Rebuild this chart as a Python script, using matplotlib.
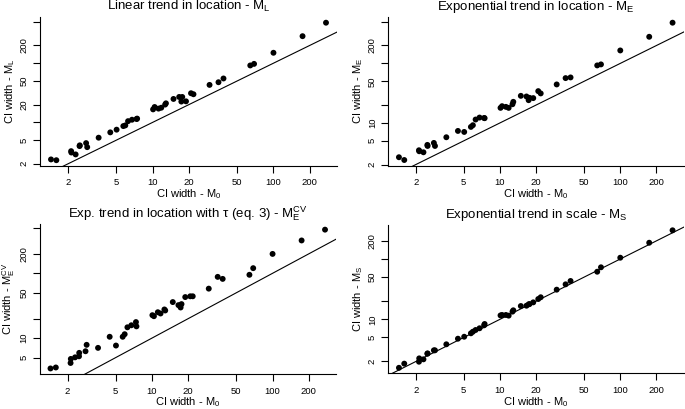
import numpy as np
import matplotlib
matplotlib.use("Agg")
import matplotlib.pyplot as plt

plt.rcParams['font.family'] = ['Liberation Sans', 'DejaVu Sans']
plt.rcParams['mathtext.fontset'] = 'custom'
plt.rcParams['mathtext.rm'] = 'Liberation Sans'
plt.rcParams['mathtext.it'] = 'Liberation Sans:italic'
plt.rcParams['mathtext.sf'] = 'Liberation Sans'

# CI width under M0 (x, shared by all panels)
ci_m0 = [1.445, 1.60, 2.12, 2.13, 2.31, 2.49, 2.50, 2.82, 2.88, 3.58, 4.47, 5.04, 5.73,
         5.95, 6.27, 6.76, 7.38, 7.45, 10.1, 10.4, 11.2, 11.8, 12.7, 12.9, 14.9, 16.6,
         17.3, 17.6, 18.9, 20.8, 21.8, 29.6, 35.1, 38.6, 64.3, 69.1, 100, 174, 272]

ci_ml = [2.37, 2.30, 3.27, 3.10, 2.88, 3.98, 4.10, 4.47, 3.82, 5.52, 6.79, 7.54, 8.67,
         8.9, 10.5, 11.1, 11.4, 11.6, 16.6, 18.2, 17.1, 17.7, 20.0, 21.0, 24.9, 26.9,
         22.5, 26.9, 22.7, 31.1, 29.9, 43.0, 47.7, 55.2, 91.6, 97.4, 150, 286, 483]

ci_me = [2.65, 2.38, 3.47, 3.34, 3.21, 4.27, 4.10, 4.61, 4.10, 5.74, 7.33, 7.05, 8.57,
         9.15, 11.4, 12.3, 12.1, 12.0, 17.9, 19.1, 18.6, 17.9, 20.6, 22.6, 28.5, 27.8,
         24.1, 26.4, 26.1, 34.2, 31.3, 44.3, 56.6, 58.1, 92.5, 96.2, 165, 280, 483]

ci_mecv = [3.41, 3.53, 4.14, 4.78, 5.06, 5.25, 5.93, 6.28, 7.89, 7.08, 10.5, 7.69, 10.5,
           11.5, 14.7, 15.8, 17.7, 15.2, 22.6, 21.8, 25.1, 24.0, 27.7, 26.7, 36.0, 32.3,
           29.7, 33.5, 43.0, 44.2, 44.2, 58.0, 88.1, 82.0, 94.8, 120, 199, 321, 471]

ci_ms = [1.57, 1.84, 1.98, 2.25, 2.17, 2.69, 2.72, 3.06, 3.06, 3.85, 4.77, 5.14, 5.86,
         6.23, 6.65, 7.10, 7.95, 8.36, 11.6, 11.8, 11.8, 11.5, 13.4, 14.1, 16.6, 16.8,
         17.7, 17.9, 19.1, 21.7, 23.2, 31.0, 38.0, 43.2, 61.5, 72.8, 105, 186, 299]

x_ticks = [2, 5, 10, 20, 50, 100, 200]

panels = [
    dict(y=ci_ml, title=r'Linear trend in location - $\mathrm{M}_\mathrm{L}$',
         ylabel=r'CI width - $\mathrm{M}_\mathrm{L}$',
         yticks=[2, 5, 10, 20, 50, 100, 200, 500], ylabels=[2, 5, 20, 50, 200],
         rect=(40, 17.2, 337, 165.7)),
    dict(y=ci_me, title=r'Exponential trend in location - $\mathrm{M}_\mathrm{E}$',
         ylabel=r'CI width - $\mathrm{M}_\mathrm{E}$',
         yticks=[2, 5, 10, 20, 50, 100, 200, 500], ylabels=[2, 5, 10, 50, 200],
         rect=(388, 17.2, 683.5, 165.5)),
    dict(y=ci_mecv, title=r'Exp. trend in location with $\mathrm{\tau}$ (eq. 3) - $\mathrm{M}_\mathrm{E}^\mathrm{CV}$',
         ylabel=r'CI width - $\mathrm{M}_\mathrm{E}^\mathrm{CV}$',
         yticks=[5, 10, 20, 50, 100, 200, 500], ylabels=[5, 10, 50, 200],
         rect=(39.5, 224.1, 336, 374)),
    dict(y=ci_ms, title=r'Exponential trend in scale - $\mathrm{M}_\mathrm{S}$',
         ylabel=r'CI width - $\mathrm{M}_\mathrm{S}$',
         yticks=[2, 5, 10, 20, 50, 100, 200], ylabels=[2, 5, 10, 50, 200],
         rect=(388, 224.8, 683.5, 373.3)),
]

W, H = 685, 409
fig = plt.figure(figsize=(W / 100, H / 100), dpi=100)


def rlim(v):
    lv = np.log10(np.asarray(v, float))
    lo, hi = lv.min(), lv.max()
    d = 0.04 * (hi - lo)
    return 10 ** (lo - d), 10 ** (hi + d)


for p in panels:
    x0, y0, x1, y1 = p['rect']
    ax = fig.add_axes([x0 / W, 1 - y1 / H, (x1 - x0) / W, (y1 - y0) / H])
    ax.set_xscale('log')
    ax.set_yscale('log')
    ax.scatter(ci_m0, p['y'], s=18, c='black', edgecolors='none', zorder=3, clip_on=False)
    xl = rlim(ci_m0)
    yl = rlim(p['y'])
    ax.plot([1e-3, 1e4], [1e-3, 1e4], color='black', lw=0.8)
    ax.set_xlim(xl)
    ax.set_ylim(yl)
    for s in ['top', 'right']:
        ax.spines[s].set_visible(False)
    for s in ['left', 'bottom']:
        ax.spines[s].set_linewidth(0.8)
    ax.set_xticks(x_ticks)
    ax.set_xticklabels([str(t) for t in x_ticks])
    ax.xaxis.set_minor_locator(matplotlib.ticker.NullLocator())
    ax.yaxis.set_minor_locator(matplotlib.ticker.NullLocator())
    ax.set_yticks(p['yticks'])
    ax.set_yticklabels([str(t) if t in p['ylabels'] else '' for t in p['yticks']],
                       rotation=90, va='center')
    ax.tick_params(axis='both', direction='out', length=5, width=0.8,
                   labelsize=6.8, pad=3, colors='black')
    ax.tick_params(axis='x', pad=4)
    ax.set_title(p['title'], fontsize=9.5, pad=5)
    ax.set_xlabel(r'CI width - $\mathrm{M}_\mathrm{0}$', fontsize=8, labelpad=0)
    ax.set_ylabel(p['ylabel'], fontsize=8, labelpad=2)

fig.savefig('out.png', dpi=100)
